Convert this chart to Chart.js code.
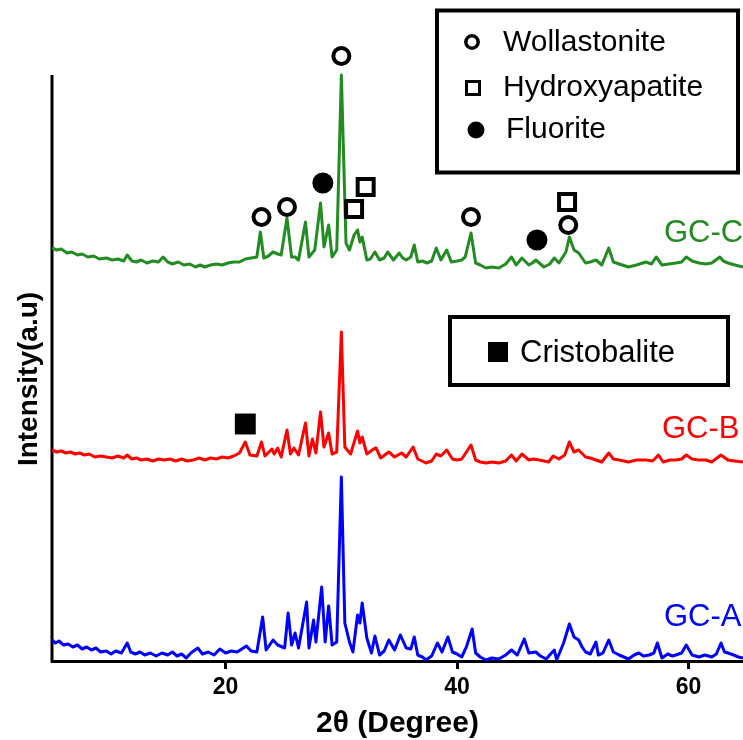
<!DOCTYPE html>
<html>
<head>
<meta charset="utf-8">
<title>XRD GC-A / GC-B / GC-C</title>
<script src="https://cdn.jsdelivr.net/npm/chart.js@4/dist/chart.umd.min.js"></script>
<style>
  html, body { margin: 0; padding: 0; background: #fff; }
  #wrap { width: 743px; height: 740px; }
</style>
</head>
<body>
<div id="wrap"><canvas id="xrd" width="743" height="740"></canvas></div>
<script>
// 2theta (deg), intensity (a.u.), per pattern
var gcA = [
  [5.0,21],[5.3,18],[5.6,20],[6.0,16],[6.4,17],[6.8,14],[7.2,16],[7.6,12],[8.0,14],[8.4,11],
  [8.8,13],[9.2,9],[9.7,10],[10.1,7],[10.5,10],[11.0,8],[11.5,18],[11.8,9],[12.2,7],[12.6,9],
  [13.0,6],[13.5,8],[14.0,5],[14.5,8],[15.0,6],[15.4,9],[15.8,5],[16.2,7],[16.6,3],[17.0,8],
  [17.6,13],[18.0,7],[18.5,9],[19.0,6],[19.5,12],[20.0,8],[20.5,10],[21.0,9],[21.4,12],[21.8,15],
  [22.2,10],[22.7,9],[23.2,44],[23.5,11],[24.1,21],[24.5,16],[25.1,13],[25.4,48],[25.7,16],[26.0,28],
  [26.3,13],[27.0,59],[27.2,13],[27.6,41],[27.8,19],[28.3,74],[28.6,19],[28.9,55],[29.2,16],[29.6,19],
  [30.0,184],[30.3,38],[30.7,19],[31.0,9],[31.4,46],[31.6,38],[31.8,58],[32.2,23],[32.6,8],[32.9,25],
  [33.3,6],[33.7,10],[34.1,21],[34.6,11],[35.1,26],[35.6,13],[36.0,12],[36.3,24],[36.6,6],[37.0,4],
  [37.3,1],[37.8,5],[38.3,18],[38.7,9],[39.2,24],[39.6,9],[40.0,7],[40.4,4],[40.8,14],[41.3,32],
  [41.6,8],[42.0,4],[42.5,1],[43.0,3],[43.6,2],[44.2,6],[44.7,11],[45.2,6],[45.8,22],[46.2,8],
  [46.8,9],[47.2,5],[47.7,2],[48.0,6],[48.4,11],[48.6,1],[49.2,18],[49.7,37],[50.1,24],[50.5,21],
  [50.8,14],[51.1,9],[51.5,7],[52.0,19],[52.2,6],[52.6,8],[53.1,21],[53.5,9],[54.0,6],[54.4,4],
  [54.8,2],[55.3,6],[55.7,8],[56.1,5],[56.6,6],[57.0,8],[57.3,18],[57.7,3],[58.2,7],[58.6,5],
  [58.9,6],[59.4,8],[59.8,16],[60.3,6],[60.9,4],[61.4,6],[62.0,4],[62.4,7],[62.8,18],[63.1,9],
  [63.4,8],[63.9,6],[64.3,4],[64.7,3]
];
var gcB = [
  [5.0,14],[5.4,12],[5.8,13],[6.2,11],[6.6,12],[7.0,10],[7.4,11],[7.8,9],[8.2,10],[8.7,7],
  [9.2,8],[9.7,7],[10.2,6],[10.7,8],[11.2,6],[11.5,9],[11.9,5],[12.3,6],[12.7,4],[13.2,5],
  [13.7,3],[14.2,5],[14.7,4],[15.2,5],[15.7,3],[16.2,5],[16.7,3],[17.2,4],[17.7,6],[18.2,4],
  [18.7,6],[19.2,5],[19.7,7],[20.2,6],[20.7,8],[21.2,11],[21.7,22],[22.1,9],[22.7,8],[23.1,22],
  [23.4,8],[24.0,15],[24.2,10],[24.5,16],[24.8,7],[25.3,34],[25.6,10],[25.9,16],[26.3,9],[26.9,41],
  [27.2,8],[27.5,25],[27.8,11],[28.2,52],[28.5,17],[28.9,31],[29.2,10],[29.6,12],[30.0,132],[30.3,17],
  [30.8,10],[31.4,33],[31.6,21],[31.8,27],[32.2,10],[32.8,15],[33.0,16],[33.4,6],[34.1,12],[34.6,7],
  [35.2,11],[35.6,7],[36.2,17],[36.6,5],[37.3,1],[37.8,3],[38.2,10],[38.6,8],[39.1,14],[39.6,5],
  [40.0,4],[40.4,5],[41.2,19],[41.6,4],[42.0,2],[42.5,1],[43.0,2],[43.6,1],[44.2,3],[44.7,9],
  [45.1,3],[45.6,10],[46.2,4],[46.6,5],[47.1,4],[47.9,2],[48.3,8],[48.8,5],[49.3,9],[49.7,22],
  [50.1,12],[50.5,14],[51.1,7],[51.5,6],[52.0,4],[52.5,2],[53.1,11],[53.5,5],[54.0,4],[54.8,2],
  [55.5,4],[56.3,4],[56.9,3],[57.4,9],[57.8,2],[58.4,4],[58.9,4],[59.4,5],[59.8,9],[60.3,5],
  [60.9,4],[61.5,4],[62.0,2],[62.8,9],[63.4,4],[64.0,3],[64.7,2]
];
var gcC = [
  [5.0,23],[5.4,21],[5.8,22],[6.3,18],[6.7,19],[7.2,16],[7.6,17],[8.1,14],[8.6,15],[9.1,12],
  [9.7,13],[10.2,11],[10.7,12],[11.2,10],[11.5,16],[11.9,10],[12.3,9],[12.7,11],[13.2,8],[13.7,10],
  [14.2,9],[14.6,14],[15.0,9],[15.4,7],[15.9,9],[16.4,6],[16.9,7],[17.4,4],[17.8,6],[18.2,4],
  [18.7,6],[19.2,7],[19.7,6],[20.2,8],[20.7,9],[21.2,9],[21.7,12],[22.2,13],[22.7,14],[23.0,39],
  [23.3,13],[23.7,15],[24.1,19],[24.5,17],[24.8,16],[25.3,53],[25.7,14],[26.0,14],[26.3,11],[26.9,49],
  [27.2,14],[27.7,21],[28.2,68],[28.5,24],[28.9,46],[29.2,14],[29.6,21],[30.0,196],[30.4,28],[30.7,21],
  [31.1,36],[31.4,41],[31.6,29],[31.8,34],[32.2,11],[32.5,12],[32.9,19],[33.3,11],[33.7,13],[34.0,19],
  [34.5,11],[35.0,18],[35.3,13],[35.6,11],[36.0,14],[36.3,26],[36.6,9],[37.0,10],[37.4,8],[37.8,10],
  [38.2,23],[38.6,11],[39.1,21],[39.5,9],[40.0,10],[40.4,11],[40.7,14],[41.2,38],[41.6,8],[42.0,6],
  [42.5,3],[43.0,4],[43.6,3],[44.2,7],[44.7,14],[45.1,6],[45.6,13],[46.2,6],[46.5,8],[46.8,11],
  [47.5,4],[48.0,7],[48.4,13],[48.8,8],[49.4,19],[49.7,34],[50.1,21],[50.5,18],[50.8,13],[51.1,8],
  [51.5,9],[52.0,11],[52.5,6],[53.1,23],[53.5,9],[54.0,7],[54.8,4],[55.5,6],[56.3,9],[56.8,7],
  [57.2,14],[57.7,6],[58.3,7],[58.9,8],[59.4,9],[59.8,14],[60.3,10],[60.9,8],[61.5,7],[62.0,8],
  [62.7,14],[63.0,10],[63.4,8],[64.0,6],[64.7,4]
];

// vertical stacking offsets of the three patterns
var offsetA = 0;
var offsetB = 197;
var offsetC = 390;

// phase markers: [2theta, height on the stacked scale]
var wollastonite = [[23.1,444],[25.3,454],[30.0,605],[41.2,444],[49.6,436]];
var hydroxyapatite = [[31.1,452],[32.1,474],[49.5,459]];
var fluorite = [[28.4,478],[46.9,421]];
var cristobalite = [[21.7,237]];

var xTicks = [20, 40, 60];
var xMin = 5, xMax = 64.7;
var axisTop = 586;   // top of the drawn y axis line
var yMax = 621;

var FONT = "'Liberation Sans', Arial, Helvetica, sans-serif";

function toPoints(pairs, offset) {
    return pairs.map(function(p) { return { x: p[0], y: p[1] + offset }; });
}

function trace(label, pairs, offset, color) {
    return {
        label: label,
        data: toPoints(pairs, offset),
        borderColor: color,
        borderWidth: 3,
        borderJoinStyle: 'round',
        pointRadius: 0,
        tension: 0,
        fill: false,
        order: 1
    };
}

function marker(label, pairs, style, radius, filled) {
    return {
        label: label,
        type: 'scatter',
        data: toPoints(pairs, 0),
        pointStyle: style,
        pointRadius: radius,
        pointBorderWidth: filled ? 0 : 4,
        pointBorderColor: '#000',
        pointBackgroundColor: filled ? '#000' : '#fff',
        showLine: false,
        clip: false,
        order: 0
    };
}

// axis line, y title, boxed keys and pattern names
var overlay = {
    id: 'overlay',
    beforeDatasetsDraw: function(chart) {
        var ctx = chart.ctx;
        var area = chart.chartArea;
        var y = chart.scales.y;
        ctx.save();
        ctx.strokeStyle = '#000';
        ctx.lineWidth = 3;
        ctx.beginPath();
        ctx.moveTo(area.left, y.getPixelForValue(axisTop));
        ctx.lineTo(area.left, area.bottom + 1.5);
        ctx.stroke();
        ctx.restore();
    },
    afterDraw: function(chart) {
        var ctx = chart.ctx;
        ctx.save();
        ctx.strokeStyle = '#000';
        ctx.fillStyle = '#000';

        // y axis title
        ctx.save();
        ctx.translate(29, 379);
        ctx.rotate(-Math.PI / 2);
        ctx.font = 'bold 28px ' + FONT;
        ctx.textAlign = 'center';
        ctx.textBaseline = 'middle';
        ctx.fillText('Intensity(a.u)', 0, 0);
        ctx.restore();

        // phase key box
        ctx.lineWidth = 4;
        ctx.strokeRect(437, 10.5, 301, 162);
        ctx.lineWidth = 3.5;
        ctx.beginPath();
        ctx.arc(472, 42, 6.2, 0, Math.PI * 2);
        ctx.stroke();
        ctx.lineWidth = 3;
        ctx.strokeRect(466.5, 81.5, 13, 13);
        ctx.beginPath();
        ctx.arc(476, 130, 8.5, 0, Math.PI * 2);
        ctx.fill();

        ctx.font = '30px ' + FONT;
        ctx.textBaseline = 'middle';
        ctx.textAlign = 'left';
        ctx.fillText('Wollastonite', 503, 43);
        ctx.fillText('Hydroxyapatite', 503, 88);
        ctx.fillText('Fluorite', 506, 130);

        // cristobalite box
        ctx.lineWidth = 4;
        ctx.strokeRect(450, 317, 278, 68);
        ctx.fillRect(488, 342, 20, 20);
        ctx.font = '31px ' + FONT;
        ctx.fillText('Cristobalite', 520, 353);

        // pattern names
        ctx.fillStyle = '#228b22';
        ctx.fillText('GC-C', 664, 233);
        ctx.fillStyle = '#ff0000';
        ctx.fillText('GC-B', 662, 429);
        ctx.fillStyle = '#0000ff';
        ctx.fillText('GC-A', 664, 617);
        ctx.restore();
    }
};

var ctx = document.getElementById('xrd').getContext('2d');
new Chart(ctx, {
    type: 'line',
    data: {
        datasets: [
            trace('GC-C', gcC, offsetC, '#228b22'),
            trace('GC-B', gcB, offsetB, '#ff0000'),
            trace('GC-A', gcA, offsetA, '#0000ff'),
            marker('Wollastonite', wollastonite, 'circle', 8, false),
            marker('Hydroxyapatite', hydroxyapatite, 'rect', 11.3, false),
            marker('Fluorite', fluorite, 'circle', 10.5, true),
            marker('Cristobalite', cristobalite, 'rect', 14.8, true)
        ]
    },
    options: {
        responsive: false,
        animation: false,
        devicePixelRatio: 1,
        layout: {
            autoPadding: false,
            padding: { top: 40, left: 0, right: 0, bottom: 0 }
        },
        plugins: {
            legend: { display: false },
            tooltip: { enabled: false }
        },
        scales: {
            x: {
                type: 'linear',
                min: xMin,
                max: xMax,
                afterBuildTicks: function(scale) {
                    scale.ticks = xTicks.map(function(v) { return { value: v }; });
                },
                afterFit: function(scale) {
                    scale.height = 79;
                    scale.paddingLeft = 0;
                    scale.paddingRight = 0;
                },
                border: { display: true, color: '#000', width: 3 },
                grid: {
                    display: true,
                    drawOnChartArea: false,
                    drawTicks: true,
                    tickLength: 8,
                    tickWidth: 3,
                    tickColor: '#000'
                },
                ticks: {
                    color: '#000',
                    padding: 5,
                    maxRotation: 0,
                    font: { family: FONT, size: 23, weight: 'bold' }
                },
                title: {
                    display: true,
                    text: '2\u03b8 (Degree)',
                    color: '#000',
                    padding: { top: 0, bottom: -2 },
                    font: { family: FONT, size: 30, weight: 'bold' }
                }
            },
            y: {
                min: 0,
                max: yMax,
                afterFit: function(scale) {
                    scale.width = 52;
                    scale.paddingTop = 0;
                    scale.paddingBottom = 0;
                },
                border: { display: false },
                grid: { display: false },
                ticks: { display: false },
                title: { display: false }
            }
        }
    },
    plugins: [overlay]
});
</script>
</body>
</html>
